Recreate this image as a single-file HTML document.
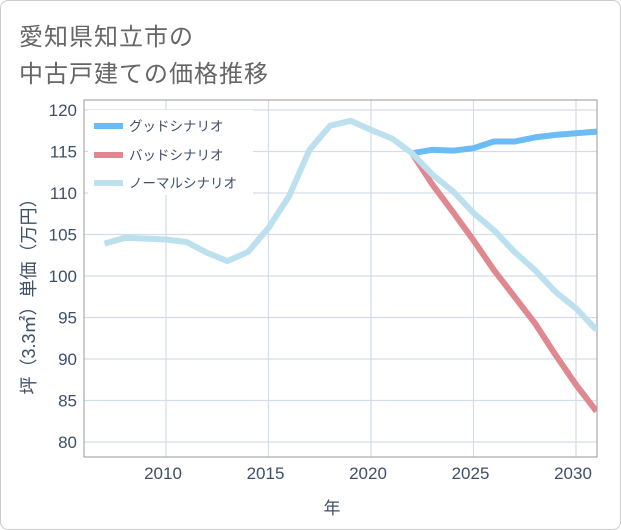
<!DOCTYPE html>
<html><head><meta charset="utf-8"><style>
body{margin:0;background:#fff;}
#wrap{position:relative;width:619px;height:528px;border:1px solid #ccc;border-radius:8px;overflow:hidden;background:#fff;}
.title{position:absolute;left:18px;font:24px "Liberation Sans","Noto Sans CJK JP",sans-serif;color:#666;letter-spacing:1px;}
svg text{font-family:"Liberation Sans","Noto Sans CJK JP",sans-serif;}
</style></head><body>
<div id="wrap">
<div class="title" style="top:16px">愛知県知立市の</div>
<div class="title" style="top:53px">中古戸建ての価格推移</div>
<svg id="chart" width="621" height="530" style="position:absolute;left:-1px;top:-1px"></svg>
</div>
<script>
const years=[2007,2008,2009,2010,2011,2012,2013,2014,2015,2016,2017,2018,2019,2020,2021,2022,2023,2024,2025,2026,2027,2028,2029,2030,2031];
const normal=[103.9,104.6,104.5,104.4,104.1,102.8,101.8,102.9,105.8,109.6,115.2,118.1,118.7,117.6,116.6,114.8,112.2,110.2,107.6,105.5,102.9,100.7,98.1,96.1,93.5];
const goodYears=[2022,2023,2024,2025,2026,2027,2028,2029,2030,2031];
const good=[114.8,115.2,115.1,115.4,116.2,116.2,116.7,117.0,117.2,117.4];
const bad=[114.8,111.0,107.7,104.3,100.7,97.5,94.3,90.5,86.9,83.7];
const yTicks=[80,85,90,95,100,105,110,115,120];
const xTicks=[2010,2015,2020,2025,2030];
const L=84,R=597,T=100,B=457;
const xs=v=>166+(v-2010)*20.5;
const ys=v=>442-(v-80)*8.3;
const NS='http://www.w3.org/2000/svg';
const svg=document.getElementById('chart');
function mk(tag,attrs,parent){const e=document.createElementNS(NS,tag);for(const k in attrs)e.setAttribute(k,attrs[k]);(parent||svg).appendChild(e);return e;}
yTicks.forEach(v=>{
 const l=mk('line',{x1:L,x2:R,y1:ys(v),y2:ys(v),stroke:'#d3dde8','stroke-width':1.2});
 
 
 const t=mk('text',{x:L-7,y:ys(v)+6,'text-anchor':'end','font-size':17,fill:'#3d5068'});
 t.textContent=v;
 
 
});
xTicks.forEach(v=>{
 const l=mk('line',{x1:xs(v),x2:xs(v),y1:T,y2:B,stroke:'#d3dde8','stroke-width':1.2});
 
 
 const t=mk('text',{x:xs(v)-3,y:B+22,'text-anchor':'middle','font-size':17,fill:'#3d5068'});
 t.textContent=v;
 
 
});
const frame=mk('rect',{x:L,y:T,width:R-L,height:B-T,fill:'none',stroke:'#999','stroke-width':1});


const clip=mk('clipPath',{id:'pc'});mk('rect',{x:L,y:T,width:R-L,height:B-T},clip);
function line(xv,yv,color,name){
 const d=xv.map((x,i)=>(i?'L':'M')+xs(x)+','+ys(yv[i])).join(' ');
 const p=mk('path',{d:d,fill:'none',stroke:color,'stroke-width':6,'stroke-linejoin':'round','clip-path':'url(#pc)'});
 
 
}
line(goodYears,good,'#6bbcf4','good-scenario-line');
line(goodYears,bad,'#e0888f','bad-scenario-line');
line(years,normal,'#bde0ee','normal-scenario-line');
const leg=[['グッドシナリオ','#6bbcf4',126],['バッドシナリオ','#e0888f',155],['ノーマルシナリオ','#bde0ee',183]];
const lg=mk('rect',{x:88,y:110,width:165,height:85,fill:'#fff'});


leg.forEach(e=>{
 const s=mk('line',{x1:94,x2:123,y1:e[2],y2:e[2],stroke:e[1],'stroke-width':6});
 
 
 const t=mk('text',{x:129,y:e[2]+5,'font-size':13.5,fill:'#3d5068'});
 t.textContent=e[0];
 
 
});
const xt=mk('text',{x:332,y:514,'text-anchor':'middle','font-size':17,fill:'#3d5068'});
xt.textContent='年';


const yt=mk('text',{x:0,y:0,'text-anchor':'middle','font-size':18,fill:'#3d5068',transform:'translate(35,292) rotate(-90)'});
yt.textContent='坪（3.3㎡）単価（万円）';


</script>
</body></html>
